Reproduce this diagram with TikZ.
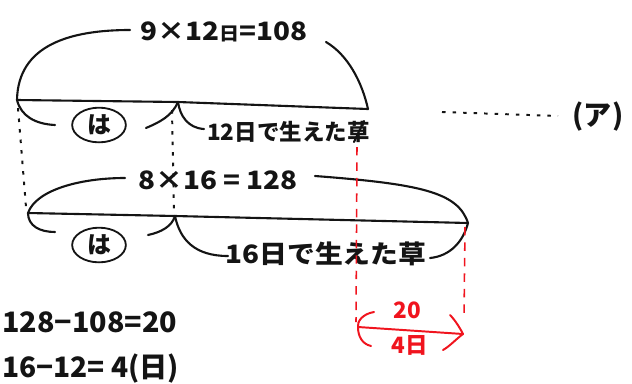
\documentclass[tikz,border=0pt]{standalone}
\usepackage{fontspec}
\usepackage{graphicx}
\setmainfont{Noto Sans CJK JP}
\usetikzlibrary{shapes.geometric}
\definecolor{pen}{RGB}{20,20,20}
\definecolor{redpen}{RGB}{240,20,30}
\tikzset{
  ink/.style={draw=pen, line width=1.5pt, line cap=round},
  redink/.style={draw=redpen, line width=1.4pt, line cap=round},
  dotln/.style={draw=pen, line width=1.4pt, dash pattern=on 2.5pt off 5pt},
  reddash/.style={draw=redpen, line width=1.1pt, dash pattern=on 6pt off 5pt},
  lbl/.style={inner sep=0pt, text=pen, font=\bfseries\fontsize{18}{18}\selectfont},
  redlbl/.style={inner sep=0pt, text=redpen, font=\bfseries\fontsize{16}{16}\selectfont},
  circled/.style={ellipse, draw=pen, line width=1.3pt, inner xsep=5pt, inner ysep=1.5pt, text=pen, font=\bfseries\fontsize{17}{17}\selectfont},
}
\begin{document}
\begin{tikzpicture}[x=0.025cm,y=-0.025cm]
\useasboundingbox (0,0) rectangle (632,383);
% main points
\coordinate (A1) at (17,100);
\coordinate (A2) at (368,109);
\coordinate (A3) at (178,102);
\coordinate (B1) at (28,213);
\coordinate (B2) at (468,223);
\coordinate (B3) at (175,216);
% top line
\draw[ink] (A1) -- (A3) -- (A2);
\node[lbl] (t1) at (224,32) {\scalebox{1.1}[1]{9×12{\fontsize{13}{13}\selectfont 日}=108}};
\coordinate (t1l) at (130,30);
\coordinate (t1r) at (326,42);
\draw[ink] (A1) .. controls (18,45) and (70,30) .. (t1l);
\draw[ink] (t1r) .. controls (348,55) and (362,82) .. (A2);
% below top line
\node[circled] (h1) at (99,125) {は};
\coordinate (h1l) at (55,125);
\coordinate (h1r) at (146,128);
\draw[ink] (A1) .. controls (21,116) and (35,124) .. (h1l);
\draw[ink] (h1r) .. controls (160,122) and (172,116) .. (A3);
\node[lbl, anchor=west] (t2) at (207,132) {\fontsize{16}{16}\selectfont 12日で生えた草};
\coordinate (t2l) at (204,129);
\draw[ink] (A3) .. controls (180,116) and (188,128) .. (t2l);
\coordinate (s1) at (354,142);
\coordinate (s2) at (364,121);
\draw[ink] (s1) -- (s2);
% (ア)
\node[lbl] (pa) at (598,117) {\fontsize{20}{20}\selectfont (ア)};
\coordinate (d1) at (442,112);
\coordinate (d2) at (558,116);
\draw[dotln] (d1) -- (d2);
% dotted verticals
\coordinate (v1a) at (18,108);
\coordinate (v1b) at (26,207);
\coordinate (v2a) at (172,110);
\coordinate (v2b) at (174,212);
\draw[dotln] (v1a) -- (v1b);
\draw[dotln] (v2a) -- (v2b);
% second line
\draw[ink] (B1) -- (B3) -- (B2);
\node[lbl] (t3) at (218,180) {\scalebox{1.1}[1]{8×16 = 128}};
\coordinate (t3l) at (125,178);
\coordinate (t3r) at (315,176);
\draw[ink] (B1) .. controls (36,190) and (80,178) .. (t3l);
\draw[ink] (t3r) .. controls (420,184) and (458,192) .. (B2);
% below second line
\node[circled] (h2) at (99,245) {は};
\coordinate (h2l) at (55,232);
\coordinate (h2r) at (148,235);
\draw[ink] (B1) .. controls (28,226) and (40,232) .. (h2l);
\draw[ink] (h2r) .. controls (162,232) and (172,226) .. (B3);
\node[lbl] (t4) at (326,254) {\scalebox{1.1}[1]{16日で生えた草}};
\coordinate (t4l) at (228,256);
\coordinate (t4r) at (430,258);
\draw[ink] (B3) .. controls (180,240) and (195,256) .. (t4l);
\draw[ink] (t4r) .. controls (450,256) and (463,242) .. (B2);
% red part
\coordinate (r1a) at (357,147);
\coordinate (r1b) at (356,322);
\coordinate (r2a) at (465,227);
\coordinate (r2b) at (464,318);
\draw[reddash] (r1a) -- (r1b);
\draw[reddash] (r2a) -- (r2b);
\coordinate (R1) at (358,327);
\coordinate (R2) at (463,334);
\draw[redink] (R1) -- (R2);
\coordinate (rl1) at (374,312);
\coordinate (rl2) at (371,346);
\draw[redink] (rl1) .. controls (362,314) and (357,322) .. (R1);
\draw[redink] (R1) .. controls (358,336) and (362,344) .. (rl2);
\coordinate (rr1) at (450,315);
\coordinate (rr2) at (443,350);
\draw[redink] (rr1) .. controls (455,320) and (460,328) .. (R2);
\draw[redink] (R2) .. controls (455,340) and (450,346) .. (rr2);
\node[redlbl] (n20) at (407,310) {20};
\node[redlbl] (n4) at (410,345) {4日};
% equations
\node[lbl, anchor=west] (e1) at (2,322) {\fontsize{20}{20}\selectfont\scalebox{1.02}[1]{128−108=20}};
\node[lbl, anchor=west] (e2) at (2,369) {\fontsize{20}{20}\selectfont\scalebox{1.0}[1]{16−12= 4(日)}};
\end{tikzpicture}
\end{document}
